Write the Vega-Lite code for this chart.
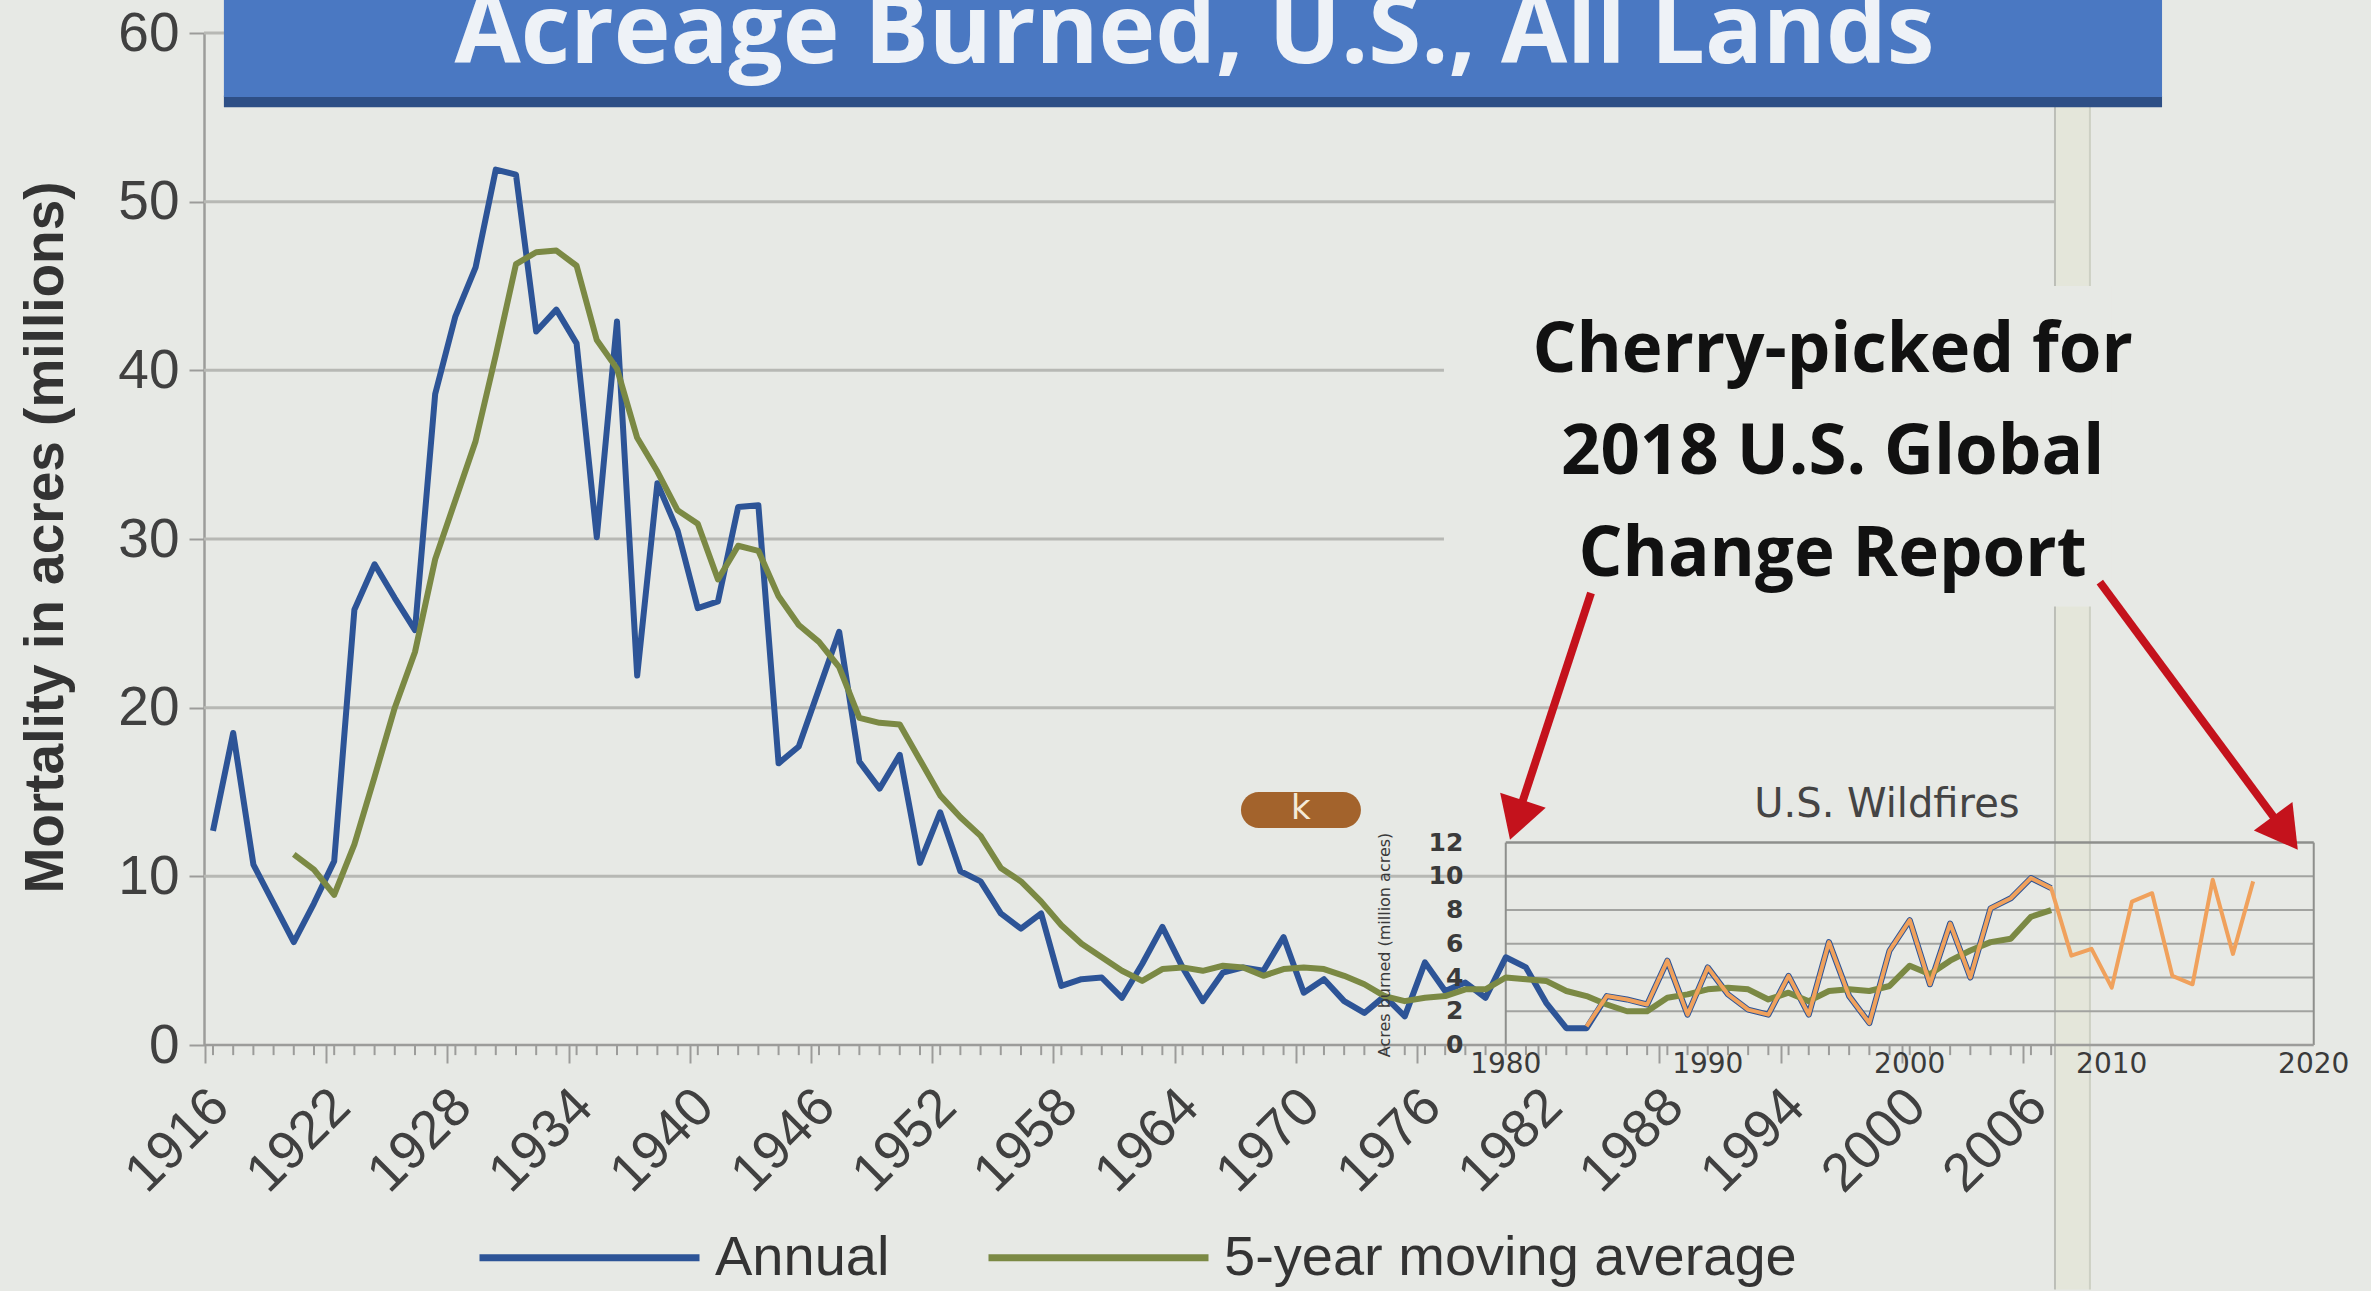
{
  "$schema": "https://vega.github.io/schema/vega-lite/v6.json",
  "width": 2136,
  "height": 1012,
  "autosize": {"type": "none"},
  "padding": {"left": 204, "top": 33, "right": 31, "bottom": 246},
  "background": "#e7e9e5",
  "config": {"view": {"stroke": null}, "font": "Liberation Sans"},
  "datasets": {
    "one": [{}],
    "main": [
      {"year": 1916, "Annual": 12.7, "5-year moving average": null},
      {"year": 1917, "Annual": 18.5, "5-year moving average": null},
      {"year": 1918, "Annual": 10.7, "5-year moving average": null},
      {"year": 1919, "Annual": 8.4, "5-year moving average": null},
      {"year": 1920, "Annual": 6.1, "5-year moving average": 11.3},
      {"year": 1921, "Annual": 8.4, "5-year moving average": 10.4},
      {"year": 1922, "Annual": 10.9, "5-year moving average": 8.9},
      {"year": 1923, "Annual": 25.8, "5-year moving average": 11.9},
      {"year": 1924, "Annual": 28.5, "5-year moving average": 15.9},
      {"year": 1925, "Annual": 26.5, "5-year moving average": 20.0},
      {"year": 1926, "Annual": 24.6, "5-year moving average": 23.3},
      {"year": 1927, "Annual": 38.6, "5-year moving average": 28.8},
      {"year": 1928, "Annual": 43.2, "5-year moving average": 32.3},
      {"year": 1929, "Annual": 46.1, "5-year moving average": 35.8},
      {"year": 1930, "Annual": 51.9, "5-year moving average": 40.9},
      {"year": 1931, "Annual": 51.6, "5-year moving average": 46.3},
      {"year": 1932, "Annual": 42.3, "5-year moving average": 47.0},
      {"year": 1933, "Annual": 43.6, "5-year moving average": 47.1},
      {"year": 1934, "Annual": 41.6, "5-year moving average": 46.2},
      {"year": 1935, "Annual": 30.1, "5-year moving average": 41.8},
      {"year": 1936, "Annual": 42.9, "5-year moving average": 40.1},
      {"year": 1937, "Annual": 21.9, "5-year moving average": 36.0},
      {"year": 1938, "Annual": 33.3, "5-year moving average": 34.0},
      {"year": 1939, "Annual": 30.5, "5-year moving average": 31.7},
      {"year": 1940, "Annual": 25.9, "5-year moving average": 30.9},
      {"year": 1941, "Annual": 26.3, "5-year moving average": 27.6},
      {"year": 1942, "Annual": 31.9, "5-year moving average": 29.6},
      {"year": 1943, "Annual": 32.0, "5-year moving average": 29.3},
      {"year": 1944, "Annual": 16.7, "5-year moving average": 26.6},
      {"year": 1945, "Annual": 17.7, "5-year moving average": 24.9},
      {"year": 1946, "Annual": 21.1, "5-year moving average": 23.9},
      {"year": 1947, "Annual": 24.5, "5-year moving average": 22.4},
      {"year": 1948, "Annual": 16.8, "5-year moving average": 19.4},
      {"year": 1949, "Annual": 15.2, "5-year moving average": 19.1},
      {"year": 1950, "Annual": 17.2, "5-year moving average": 19.0},
      {"year": 1951, "Annual": 10.8, "5-year moving average": 16.9},
      {"year": 1952, "Annual": 13.8, "5-year moving average": 14.8},
      {"year": 1953, "Annual": 10.3, "5-year moving average": 13.5},
      {"year": 1954, "Annual": 9.7, "5-year moving average": 12.4},
      {"year": 1955, "Annual": 7.8, "5-year moving average": 10.5},
      {"year": 1956, "Annual": 6.9, "5-year moving average": 9.7},
      {"year": 1957, "Annual": 7.8, "5-year moving average": 8.5},
      {"year": 1958, "Annual": 3.5, "5-year moving average": 7.1},
      {"year": 1959, "Annual": 3.9, "5-year moving average": 6.0},
      {"year": 1960, "Annual": 4.0, "5-year moving average": 5.2},
      {"year": 1961, "Annual": 2.8, "5-year moving average": 4.4},
      {"year": 1962, "Annual": 4.8, "5-year moving average": 3.8},
      {"year": 1963, "Annual": 7.0, "5-year moving average": 4.5},
      {"year": 1964, "Annual": 4.6, "5-year moving average": 4.6},
      {"year": 1965, "Annual": 2.6, "5-year moving average": 4.4},
      {"year": 1966, "Annual": 4.3, "5-year moving average": 4.7},
      {"year": 1967, "Annual": 4.6, "5-year moving average": 4.6},
      {"year": 1968, "Annual": 4.4, "5-year moving average": 4.1},
      {"year": 1969, "Annual": 6.4, "5-year moving average": 4.5},
      {"year": 1970, "Annual": 3.1, "5-year moving average": 4.6},
      {"year": 1971, "Annual": 3.9, "5-year moving average": 4.5},
      {"year": 1972, "Annual": 2.6, "5-year moving average": 4.1},
      {"year": 1973, "Annual": 1.9, "5-year moving average": 3.6},
      {"year": 1974, "Annual": 2.9, "5-year moving average": 2.9},
      {"year": 1975, "Annual": 1.7, "5-year moving average": 2.6},
      {"year": 1976, "Annual": 4.9, "5-year moving average": 2.8},
      {"year": 1977, "Annual": 3.2, "5-year moving average": 2.9},
      {"year": 1978, "Annual": 3.7, "5-year moving average": 3.3},
      {"year": 1979, "Annual": 2.8, "5-year moving average": 3.3},
      {"year": 1980, "Annual": 5.2, "5-year moving average": 4.0},
      {"year": 1981, "Annual": 4.6, "5-year moving average": 3.9},
      {"year": 1982, "Annual": 2.5, "5-year moving average": 3.8},
      {"year": 1983, "Annual": 1.0, "5-year moving average": 3.2},
      {"year": 1984, "Annual": 1.0, "5-year moving average": 2.9},
      {"year": 1985, "Annual": 2.9, "5-year moving average": 2.4},
      {"year": 1986, "Annual": 2.7, "5-year moving average": 2.0},
      {"year": 1987, "Annual": 2.4, "5-year moving average": 2.0},
      {"year": 1988, "Annual": 5.0, "5-year moving average": 2.8},
      {"year": 1989, "Annual": 1.8, "5-year moving average": 3.0},
      {"year": 1990, "Annual": 4.6, "5-year moving average": 3.3},
      {"year": 1991, "Annual": 3.0, "5-year moving average": 3.4},
      {"year": 1992, "Annual": 2.1, "5-year moving average": 3.3},
      {"year": 1993, "Annual": 1.8, "5-year moving average": 2.7},
      {"year": 1994, "Annual": 4.1, "5-year moving average": 3.1},
      {"year": 1995, "Annual": 1.8, "5-year moving average": 2.6},
      {"year": 1996, "Annual": 6.1, "5-year moving average": 3.2},
      {"year": 1997, "Annual": 2.9, "5-year moving average": 3.3},
      {"year": 1998, "Annual": 1.3, "5-year moving average": 3.2},
      {"year": 1999, "Annual": 5.6, "5-year moving average": 3.5},
      {"year": 2000, "Annual": 7.4, "5-year moving average": 4.7},
      {"year": 2001, "Annual": 3.6, "5-year moving average": 4.2},
      {"year": 2002, "Annual": 7.2, "5-year moving average": 5.0},
      {"year": 2003, "Annual": 4.0, "5-year moving average": 5.6},
      {"year": 2004, "Annual": 8.1, "5-year moving average": 6.1},
      {"year": 2005, "Annual": 8.7, "5-year moving average": 6.3},
      {"year": 2006, "Annual": 9.9, "5-year moving average": 7.6},
      {"year": 2007, "Annual": 9.3, "5-year moving average": 8.0}
    ],
    "wildfires": [
      {"year": 1984, "acres": 1.1}, {"year": 1985, "acres": 2.9}, {"year": 1986, "acres": 2.7},
      {"year": 1987, "acres": 2.4}, {"year": 1988, "acres": 5.0}, {"year": 1989, "acres": 1.8},
      {"year": 1990, "acres": 4.6}, {"year": 1991, "acres": 3.0}, {"year": 1992, "acres": 2.1},
      {"year": 1993, "acres": 1.8}, {"year": 1994, "acres": 4.1}, {"year": 1995, "acres": 1.8},
      {"year": 1996, "acres": 6.1}, {"year": 1997, "acres": 2.9}, {"year": 1998, "acres": 1.3},
      {"year": 1999, "acres": 5.6}, {"year": 2000, "acres": 7.4}, {"year": 2001, "acres": 3.6},
      {"year": 2002, "acres": 7.2}, {"year": 2003, "acres": 4.0}, {"year": 2004, "acres": 8.1},
      {"year": 2005, "acres": 8.7}, {"year": 2006, "acres": 9.9}, {"year": 2007, "acres": 9.3},
      {"year": 2008, "acres": 5.3}, {"year": 2009, "acres": 5.7}, {"year": 2010, "acres": 3.4},
      {"year": 2011, "acres": 8.5}, {"year": 2012, "acres": 9.0}, {"year": 2013, "acres": 4.1},
      {"year": 2014, "acres": 3.6}, {"year": 2015, "acres": 9.8}, {"year": 2016, "acres": 5.4},
      {"year": 2017, "acres": 9.7}
    ],
    "mainGrid": [{"v": 10}, {"v": 20}, {"v": 30}, {"v": 40}, {"v": 50}, {"v": 60}],
    "insetGrid": [{"v": 2}, {"v": 4}, {"v": 6}, {"v": 8}, {"v": 10}],
    "insetYTicks": [{"v": 0}, {"v": 2}, {"v": 4}, {"v": 6}, {"v": 8}, {"v": 10}, {"v": 12}],
    "insetXTicks": [{"year": 1980}, {"year": 1990}, {"year": 2000}, {"year": 2010}, {"year": 2020}]
  },
  "layer": [
    {
      "data": {"name": "one"},
      "mark": {"type": "rect", "fill": "#e4e6da"},
      "encoding": {
        "x": {
          "datum": 2007.19,
          "type": "quantitative",
          "scale": {"domain": [1915.555, 2021.3], "nice": false, "zero": false},
          "axis": {
            "title": null,
            "values": [1916, 1922, 1928, 1934, 1940, 1946, 1952, 1958, 1964, 1970, 1976, 1982, 1988, 1994, 2000, 2006],
            "format": "d",
            "grid": false,
            "domain": false,
            "ticks": true,
            "tickSize": 18,
            "tickWidth": 2,
            "tickColor": "#9c9c9a",
            "tickOffset": -8,
            "labelAngle": -45,
            "labelAlign": "right",
            "labelBaseline": "middle",
            "labelOffset": 15,
            "labelPadding": 35,
            "labelFontSize": 54,
            "labelColor": "#404040",
            "labelOverlap": false,
            "labelFont": "Liberation Sans"
          }
        },
        "x2": {"datum": 2008.92},
        "y": {
          "datum": -14.5,
          "type": "quantitative",
          "scale": {"domain": [0, 60], "nice": false},
          "axis": {
            "values": [0, 10, 20, 30, 40, 50, 60],
            "grid": false,
            "domain": true,
            "domainColor": "#9c9c9a",
            "domainWidth": 2.5,
            "tickSize": 15,
            "tickWidth": 2,
            "tickColor": "#9c9c9a",
            "labelPadding": 10,
            "labelFontSize": 55,
            "labelColor": "#404040",
            "labelFont": "Liberation Sans",
            "title": "Mortality in acres (millions)",
            "titleFont": "Liberation Sans",
            "titleFontSize": 55,
            "titleFontWeight": "bold",
            "titleColor": "#333333",
            "titleAngle": -90,
            "titleAlign": "center",
            "titleBaseline": "middle",
            "titleX": -159,
            "titleY": 504
          }
        },
        "y2": {"datum": 56}
      }
    },
    {
      "data": {"name": "one"},
      "mark": {"type": "rule", "stroke": "#bcbeb7", "strokeWidth": 2},
      "encoding": {
        "x": {"datum": 2007.19, "type": "quantitative"},
        "y": {"datum": -14.5, "type": "quantitative"},
        "y2": {"datum": 56}
      }
    },
    {
      "data": {"name": "one"},
      "mark": {"type": "rule", "stroke": "#cdd0c4", "strokeWidth": 2},
      "encoding": {
        "x": {"datum": 2008.92, "type": "quantitative"},
        "y": {"datum": -14.5, "type": "quantitative"},
        "y2": {"datum": 56}
      }
    },
    {
      "data": {"name": "mainGrid"},
      "mark": {"type": "rule", "stroke": "#b7b8b4", "strokeWidth": 3},
      "encoding": {
        "x": {"datum": 1915.555, "type": "quantitative"},
        "x2": {"datum": 2007.19},
        "y": {"field": "v", "type": "quantitative"}
      }
    },
    {
      "data": {"name": "insetGrid"},
      "mark": {"type": "rule", "stroke": "#a2a3a0", "strokeWidth": 2},
      "encoding": {
        "x": {"datum": 1980, "type": "quantitative"},
        "x2": {"datum": 2020},
        "y": {"field": "v", "type": "quantitative"}
      }
    },
    {
      "data": {"name": "one"},
      "mark": {"type": "rule", "stroke": "#8e8f8c", "strokeWidth": 2.5},
      "encoding": {
        "x": {"datum": 1980, "type": "quantitative"},
        "x2": {"datum": 2020},
        "y": {"datum": 12, "type": "quantitative"}
      }
    },
    {
      "data": {"name": "one"},
      "mark": {"type": "rule", "stroke": "#8e8f8c", "strokeWidth": 2},
      "encoding": {
        "x": {"datum": 1980, "type": "quantitative"},
        "y": {"datum": 0, "type": "quantitative"},
        "y2": {"datum": 12}
      }
    },
    {
      "data": {"name": "one"},
      "mark": {"type": "rule", "stroke": "#8e8f8c", "strokeWidth": 2},
      "encoding": {
        "x": {"datum": 2020, "type": "quantitative"},
        "y": {"datum": 0, "type": "quantitative"},
        "y2": {"datum": 12}
      }
    },
    {
      "data": {"name": "one"},
      "mark": {"type": "rect", "fill": "#e7e9e5"},
      "encoding": {
        "x": {"datum": 1976.94, "type": "quantitative"},
        "x2": {"datum": 2010},
        "y": {"datum": 26, "type": "quantitative"},
        "y2": {"datum": 45}
      }
    },
    {
      "data": {"name": "main"},
      "mark": {"type": "rule", "stroke": "#9c9c9a", "strokeWidth": 2},
      "encoding": {
        "x": {"field": "year", "type": "quantitative"},
        "y": {"datum": 0, "type": "quantitative"},
        "y2": {"datum": -0.6}
      }
    },
    {
      "data": {"name": "one"},
      "mark": {"type": "rule", "stroke": "#9c9c9a", "strokeWidth": 2.5},
      "encoding": {
        "x": {"datum": 1915.555, "type": "quantitative"},
        "x2": {"datum": 2020},
        "y": {"datum": 0, "type": "quantitative"}
      }
    },
    {
      "data": {"name": "main"},
      "transform": [{"fold": ["Annual", "5-year moving average"], "as": ["series", "value"]}],
      "mark": {"type": "line", "strokeWidth": 6, "strokeJoin": "round"},
      "encoding": {
        "x": {"field": "year", "type": "quantitative"},
        "y": {"field": "value", "type": "quantitative"},
        "color": {
          "field": "series",
          "type": "nominal",
          "scale": {"domain": ["Annual", "5-year moving average"], "range": ["#2d5497", "#7b8944"]},
          "legend": {
            "orient": "none",
            "legendX": 272,
            "legendY": 1111,
            "direction": "horizontal",
            "title": null,
            "symbolType": "stroke",
            "symbolSize": 48400,
            "symbolStrokeWidth": 7,
            "labelFontSize": 56,
            "labelFont": "Liberation Sans",
            "labelColor": "#333333",
            "labelOffset": 12,
            "columnPadding": 84,
            "labelLimit": 0
          }
        }
      }
    },
    {
      "data": {"name": "wildfires"},
      "mark": {"type": "line", "stroke": "#f0a15c", "strokeWidth": 4, "strokeJoin": "round"},
      "encoding": {
        "x": {"field": "year", "type": "quantitative"},
        "y": {"field": "acres", "type": "quantitative"}
      }
    },
    {
      "data": {"name": "insetYTicks"},
      "mark": {"type": "text", "font": "DejaVu Sans", "fontSize": 25, "fontWeight": "bold", "fill": "#3a3a3a", "align": "right", "baseline": "middle"},
      "encoding": {
        "x": {"datum": 1977.9, "type": "quantitative"},
        "y": {"field": "v", "type": "quantitative"},
        "text": {"field": "v", "type": "quantitative"}
      }
    },
    {
      "data": {"name": "insetXTicks"},
      "mark": {"type": "text", "font": "DejaVu Sans", "fontSize": 28, "fill": "#3a3a3a", "align": "center", "baseline": "middle"},
      "encoding": {
        "x": {"field": "year", "type": "quantitative"},
        "y": {"datum": -1.19, "type": "quantitative"},
        "text": {"field": "year", "type": "nominal"}
      }
    },
    {
      "data": {"name": "one"},
      "mark": {"type": "text", "text": "Acres burned (million acres)", "font": "DejaVu Sans", "fontSize": 16, "fill": "#3a3a3a", "angle": 270, "align": "center", "baseline": "middle"},
      "encoding": {
        "x": {"datum": 1974.0, "type": "quantitative"},
        "y": {"datum": 5.93, "type": "quantitative"}
      }
    },
    {
      "data": {"name": "one"},
      "mark": {"type": "text", "text": "U.S. Wildfires", "font": "DejaVu Sans", "fontSize": 40, "fill": "#444444", "align": "center", "baseline": "middle"},
      "encoding": {
        "x": {"datum": 1998.87, "type": "quantitative"},
        "y": {"datum": 14.23, "type": "quantitative"}
      }
    },
    {
      "data": {"name": "one"},
      "mark": {"type": "rect", "fill": "#a3632c", "cornerRadius": 18},
      "encoding": {
        "x": {"datum": 1966.89, "type": "quantitative"},
        "x2": {"datum": 1972.83},
        "y": {"datum": 12.86, "type": "quantitative"},
        "y2": {"datum": 15.0}
      }
    },
    {
      "data": {"name": "one"},
      "mark": {"type": "text", "text": "k", "font": "DejaVu Sans", "fontSize": 34, "fill": "#f4ead8", "align": "center", "baseline": "middle"},
      "encoding": {
        "x": {"datum": 1969.86, "type": "quantitative"},
        "y": {"datum": 14.0, "type": "quantitative"}
      }
    },
    {
      "data": {"name": "one"},
      "mark": {"type": "rule", "stroke": "#c4121c", "strokeWidth": 8},
      "encoding": {
        "x": {"datum": 1984.22, "type": "quantitative"},
        "y": {"datum": 26.8, "type": "quantitative"},
        "x2": {"datum": 1980.53},
        "y2": {"datum": 13.34}
      }
    },
    {
      "data": {"name": "one"},
      "mark": {"type": "point", "shape": "triangle-up", "filled": true, "fill": "#c4121c", "opacity": 1, "size": 2300, "angle": 198.15},
      "encoding": {
        "x": {"datum": 1980.53, "type": "quantitative"},
        "y": {"datum": 13.34, "type": "quantitative"}
      }
    },
    {
      "data": {"name": "one"},
      "mark": {"type": "rule", "stroke": "#c4121c", "strokeWidth": 8},
      "encoding": {
        "x": {"datum": 2009.41, "type": "quantitative"},
        "y": {"datum": 27.45, "type": "quantitative"},
        "x2": {"datum": 2018.6},
        "y2": {"datum": 12.57}
      }
    },
    {
      "data": {"name": "one"},
      "mark": {"type": "point", "shape": "triangle-up", "filled": true, "fill": "#c4121c", "opacity": 1, "size": 2300, "angle": 143.6},
      "encoding": {
        "x": {"datum": 2018.6, "type": "quantitative"},
        "y": {"datum": 12.57, "type": "quantitative"}
      }
    },
    {
      "data": {"name": "one"},
      "mark": {"type": "rect", "fill": "#2e4f86"},
      "encoding": {
        "x": {"datum": 1916.54, "type": "quantitative"},
        "x2": {"datum": 2012.49},
        "y": {"datum": 55.6, "type": "quantitative"},
        "y2": {"datum": 56.3}
      }
    },
    {
      "data": {"name": "one"},
      "mark": {"type": "rect", "fill": "#4a78c2"},
      "encoding": {
        "x": {"datum": 1916.54, "type": "quantitative"},
        "x2": {"datum": 2012.49},
        "y": {"datum": 56.2, "type": "quantitative"},
        "y2": {"datum": 62.5}
      }
    },
    {
      "data": {"name": "one"},
      "mark": {"type": "text", "text": "Acreage Burned, U.S., All Lands", "font": "Open Sans", "fontWeight": "bold", "fontSize": 96, "fill": "#eef2f7", "align": "center", "baseline": "alphabetic"},
      "encoding": {
        "x": {"datum": 1964.59, "type": "quantitative"},
        "y": {"datum": 58.22, "type": "quantitative"}
      }
    },
    {
      "data": {"name": "one"},
      "mark": {"type": "text", "text": ["Cherry-picked for", "2018 U.S. Global", "Change Report"], "lineHeight": 102, "font": "Open Sans", "fontWeight": "bold", "fontSize": 69, "fill": "#111111", "align": "center", "baseline": "alphabetic"},
      "encoding": {
        "x": {"datum": 1996.18, "type": "quantitative"},
        "y": {"datum": 39.92, "type": "quantitative"}
      }
    }
  ]
}
